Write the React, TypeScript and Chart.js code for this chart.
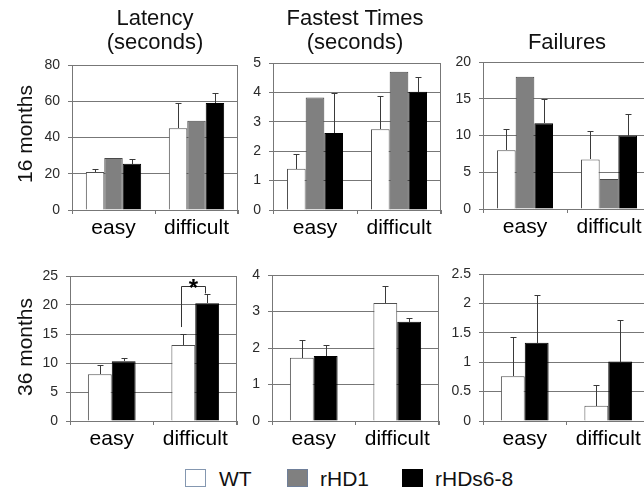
import React, { useEffect, useRef } from "react";
import { Chart, registerables } from "chart.js";

Chart.register(...registerables);

// ---------- data ----------
const categories = ["easy", "difficult"];
const seriesNames = ["WT", "rHD1", "rHDs6-8"];

// 16 months
const latency16WT = [21, 45.1];
const latency16WTErr = [1.6, 13.8];
const latency16HD1 = [28.7, 49.3];
const latency16HDs = [25.5, 59];
const latency16HDsErr = [2.8, 5.4];

const fastest16WT = [1.4, 2.75];
const fastest16WTErr = [0.5, 1.14];
const fastest16HD1 = [3.83, 4.7];
const fastest16HDs = [2.62, 4.02];
const fastest16HDsErr = [1.35, 0.5];

const failures16WT = [8.0, 6.75];
const failures16WTErr = [2.9, 3.9];
const failures16HD1 = [18.0, 4.08];
const failures16HDs = [11.65, 10.0];
const failures16HDsErr = [3.25, 2.96];

// 36 months
const latency36WT = [8.05, 13.1];
const latency36WTErr = [1.55, 1.95];
const latency36HDs = [10.3, 20.3];
const latency36HDsErr = [0.6, 1.6];

const fastest36WT = [1.73, 3.23];
const fastest36WTErr = [0.49, 0.46];
const fastest36HDs = [1.78, 2.72];
const fastest36HDsErr = [0.31, 0.1];

const failures36WT = [0.76, 0.26];
const failures36WTErr = [0.67, 0.35];
const failures36HDs = [1.33, 1.01];
const failures36HDsErr = [0.82, 0.7];

// y-axis ranges [max, step]
const latency16Axis = [80, 20];
const fastest16Axis = [5, 1];
const failures16Axis = [20, 5];
const latency36Axis = [25, 5];
const fastest36Axis = [4, 1];
const failures36Axis = [2.5, 0.5];

// significance bracket (36 months latency, difficult): bottom-left, top, bottom-right values
const sigCategory = 1;
const sigLevels = [16.2, 23.3, 22.0];
const sigLabel = "*";

const titles = [["Latency", "(seconds)"], ["Fastest Times", "(seconds)"], ["", "Failures"]];
const rowLabels = ["16 months", "36 months"];

// ---------- styles ----------
const FONT = "Arial, 'Liberation Sans', sans-serif";
const GRID = "#777777";
const COLORS = { WT: "#ffffff", HD1: "#808080", HDs: "#000000" };
const BORDERS = { WT: "#505050", HD1: "#4a4a4a", HDs: "#000000" };
const AX_W = 45;
const AX_H = 40;
const PAD_T = 18;
const PAD_R = 2;

type DS = { label: string; data: number[]; errors?: number[] | null; color: string; border: string };

const frameRightPlugin = {
  id: "frameRight",
  beforeDatasetsDraw(chart: any) {
    const { ctx, chartArea } = chart;
    const x = Math.round(chartArea.right) - 0.5;
    ctx.save();
    ctx.strokeStyle = GRID;
    ctx.lineWidth = 1;
    ctx.beginPath();
    ctx.moveTo(x, chartArea.top);
    ctx.lineTo(x, chartArea.bottom + 4);
    ctx.stroke();
    ctx.restore();
  },
};

const errorBarPlugin = {
  id: "errorBars",
  afterDatasetsDraw(chart: any) {
    const ctx = chart.ctx;
    const ys = chart.scales.y;
    chart.data.datasets.forEach((ds: any, i: number) => {
      const errs = ds.errors;
      if (!errs) return;
      const meta = chart.getDatasetMeta(i);
      meta.data.forEach((bar: any, j: number) => {
        const e = errs[j];
        if (e == null) return;
        const v = ds.data[j];
        const x = Math.round(bar.x) + 0.5;
        const y0 = Math.round(ys.getPixelForValue(v));
        const y1 = Math.round(ys.getPixelForValue(v + e)) + 0.5;
        ctx.save();
        ctx.strokeStyle = "#3a3a3a";
        ctx.lineWidth = 1;
        ctx.beginPath();
        ctx.moveTo(x, y0);
        ctx.lineTo(x, y1);
        ctx.moveTo(x - 3, y1);
        ctx.lineTo(x + 3, y1);
        ctx.stroke();
        ctx.restore();
      });
    });
  },
};

const sigPlugin = {
  id: "sigBracket",
  afterDatasetsDraw(chart: any, _args: any, opts: any) {
    if (!opts || !opts.enabled) return;
    const ctx = chart.ctx;
    const ys = chart.scales.y;
    const m0 = chart.getDatasetMeta(0).data[opts.category];
    const m1 = chart.getDatasetMeta(chart.data.datasets.length - 1).data[opts.category];
    const xl = Math.round(m0.x) - 1.5;
    const xr = Math.round(m1.x) - 1.5;
    const yb = ys.getPixelForValue(opts.levels[0]);
    const yt = Math.round(ys.getPixelForValue(opts.levels[1])) + 0.5;
    const yr = ys.getPixelForValue(opts.levels[2]);
    ctx.save();
    ctx.strokeStyle = "#333";
    ctx.lineWidth = 1;
    ctx.beginPath();
    ctx.moveTo(xl, yb);
    ctx.lineTo(xl, yt);
    ctx.lineTo(xr, yt);
    ctx.lineTo(xr, yr);
    ctx.stroke();
    ctx.fillStyle = "#000";
    ctx.font = `bold 24px ${FONT}`;
    ctx.textAlign = "center";
    ctx.textBaseline = "alphabetic";
    ctx.fillText(opts.label, (xl + xr) / 2, yt + 9);
    ctx.restore();
  },
};

type PanelProps = {
  rect: [number, number, number, number];
  axis: number[];
  datasets: DS[];
  sig?: boolean;
};

function Panel({ rect, axis, datasets, sig }: PanelProps) {
  const ref = useRef<HTMLCanvasElement | null>(null);
  const [L, T, R, B] = rect;
  const w = R - L + AX_W + PAD_R;
  const h = B - T + PAD_T + AX_H;
  useEffect(() => {
    if (!ref.current) return;
    const n = datasets.length;
    const catPct = n / (n + 1.5);
    const chart = new Chart(ref.current, {
      type: "bar",
      data: {
        labels: categories,
        datasets: datasets.map((d) => ({
          label: d.label,
          data: d.data,
          errors: d.errors,
          backgroundColor: d.color,
          borderColor: d.border,
          borderWidth: 1,
          categoryPercentage: catPct,
          barPercentage: 1,
        })) as any,
      },
      options: {
        animation: false,
        responsive: false,
        devicePixelRatio: 1,
        layout: { padding: { top: PAD_T, right: PAD_R, left: 0, bottom: 0 } },
        plugins: {
          legend: { display: false },
          tooltip: { enabled: false },
          sigBracket: { enabled: !!sig, category: sigCategory, levels: sigLevels, label: sigLabel },
        } as any,
        scales: {
          x: {
            offset: true,
            grid: { offset: true, drawOnChartArea: false, tickLength: 4, color: GRID },
            border: { color: GRID },
            ticks: { color: "#000", font: { family: FONT, size: 21 }, padding: 2, maxRotation: 0, autoSkip: false },
            afterFit: (s: any) => {
              s.height = AX_H;
            },
          },
          y: {
            min: 0,
            max: axis[0],
            ticks: {
              stepSize: axis[1],
              color: "#2a2a2a",
              font: { family: FONT, size: 14 },
              padding: 8,
              callback: (v: any) => String(Math.round(Number(v) * 100) / 100),
            },
            grid: { color: GRID, lineWidth: 1, tickLength: 4 },
            border: { color: GRID },
            afterFit: (s: any) => {
              s.width = AX_W;
            },
          },
        },
      } as any,
      plugins: [frameRightPlugin, errorBarPlugin, sigPlugin],
    });
    return () => chart.destroy();
  }, []);
  return (
    <canvas
      ref={ref}
      width={w}
      height={h}
      style={{ position: "absolute", left: L - AX_W, top: T - PAD_T, width: w, height: h }}
    />
  );
}

const ds16 = (wt: number[], wtE: number[], hd1: number[], hds: number[], hdsE: number[]): DS[] => [
  { label: seriesNames[0], data: wt, errors: wtE, color: COLORS.WT, border: BORDERS.WT },
  { label: seriesNames[1], data: hd1, errors: null, color: COLORS.HD1, border: BORDERS.HD1 },
  { label: seriesNames[2], data: hds, errors: hdsE, color: COLORS.HDs, border: BORDERS.HDs },
];
const ds36 = (wt: number[], wtE: number[], hds: number[], hdsE: number[]): DS[] => [
  { label: seriesNames[0], data: wt, errors: wtE, color: COLORS.WT, border: BORDERS.WT },
  { label: seriesNames[2], data: hds, errors: hdsE, color: COLORS.HDs, border: BORDERS.HDs },
];

const titleCenters = [155, 355, 567];

export default function App() {
  const textStyle: React.CSSProperties = { position: "absolute", fontFamily: FONT, color: "#111", whiteSpace: "nowrap" };
  return (
    <div style={{ position: "fixed", left: 0, top: 0, width: 644, height: 492, overflow: "hidden", background: "#fff" }}>
      <Panel rect={[72, 65, 238, 210]} axis={latency16Axis} datasets={ds16(latency16WT, latency16WTErr, latency16HD1, latency16HDs, latency16HDsErr)} />
      <Panel rect={[273, 63, 441, 210]} axis={fastest16Axis} datasets={ds16(fastest16WT, fastest16WTErr, fastest16HD1, fastest16HDs, fastest16HDsErr)} />
      <Panel rect={[483, 62, 651, 209]} axis={failures16Axis} datasets={ds16(failures16WT, failures16WTErr, failures16HD1, failures16HDs, failures16HDsErr)} />
      <Panel rect={[70, 276, 237, 421]} axis={latency36Axis} datasets={ds36(latency36WT, latency36WTErr, latency36HDs, latency36HDsErr)} sig />
      <Panel rect={[272, 275, 439, 421]} axis={fastest36Axis} datasets={ds36(fastest36WT, fastest36WTErr, fastest36HDs, fastest36HDsErr)} />
      <Panel rect={[483, 274, 650, 421]} axis={failures36Axis} datasets={ds36(failures36WT, failures36WTErr, failures36HDs, failures36HDsErr)} />
      {titles.map((t, i) => (
        <div
          key={i}
          style={{ ...textStyle, left: titleCenters[i] - 100, width: 200, top: 6, fontSize: 22, lineHeight: "24px", textAlign: "center" }}
        >
          <div>{t[0] || "\u00a0"}</div>
          <div>{t[1]}</div>
        </div>
      ))}
      {rowLabels.map((t, i) => (
        <div
          key={t}
          style={{
            ...textStyle,
            left: 24,
            top: i === 0 ? 134 : 347,
            fontSize: 21,
            lineHeight: 1,
            transform: "translate(-50%, -50%) rotate(-90deg)",
          }}
        >
          {t}
        </div>
      ))}
      {seriesNames.map((name, i) => {
        const boxX = [185, 287, 402][i];
        const textX = [219, 320, 435][i];
        const fill = [COLORS.WT, COLORS.HD1, COLORS.HDs][i];
        const border = ["#8497b0", "#6f7f99", "#000"][i];
        return (
          <React.Fragment key={name}>
            <div style={{ position: "absolute", left: boxX, top: 469, width: 19, height: 16, background: fill, border: `1px solid ${border}` }} />
            <div style={{ ...textStyle, left: textX, top: 467, fontSize: 21, lineHeight: "24px" }}>{name}</div>
          </React.Fragment>
        );
      })}
    </div>
  );
}
